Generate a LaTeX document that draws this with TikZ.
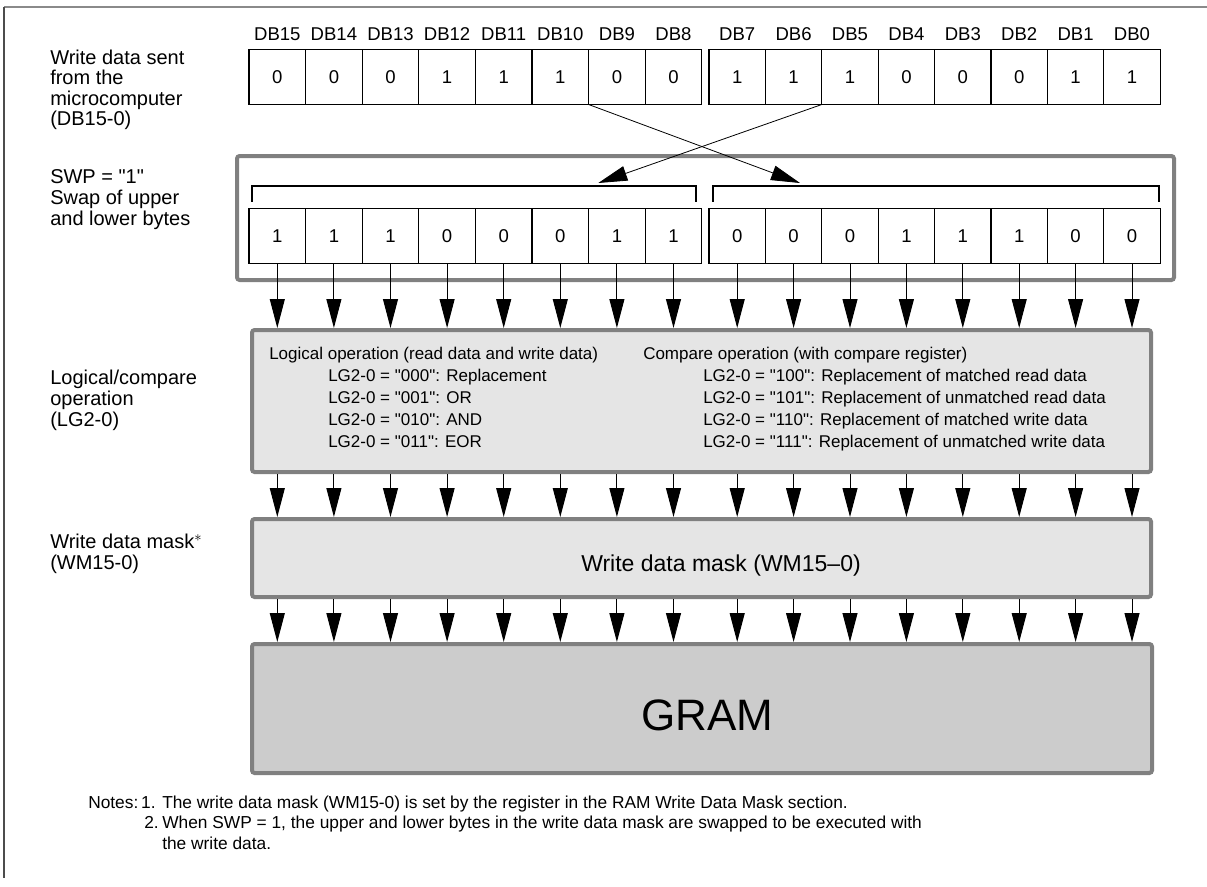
\documentclass[tikz,border=0pt]{standalone}
\usepackage{fontspec}
\setmainfont{Liberation Sans}[Ligatures=TeXOff]
\usetikzlibrary{arrows.meta,calc}
\definecolor{boxgray}{HTML}{808080}
\definecolor{lightfill}{HTML}{E5E5E5}
\definecolor{gramfill}{HTML}{CCCCCC}
\definecolor{framegray}{HTML}{8A8A8A}
\begin{document}
\begin{tikzpicture}[x=0.75pt,y=-0.75pt,
  cell/.style={draw=black,line width=0.9pt,minimum width={#1*0.75pt},minimum height={55*0.75pt},inner sep=0pt,outer sep=0pt,font=\fontsize{13.9pt}{14pt}\selectfont},
  bigbox/.style={draw=boxgray,line width=3pt,rounded corners=2pt,inner sep=0pt,outer sep=1.5pt},
  lab/.style={anchor=base west,inner sep=0pt,font=\fontsize{15pt}{15pt}\selectfont},
  dbl/.style={anchor=base,inner sep=0pt,font=\fontsize{13.9pt}{14pt}\selectfont},
  op/.style={anchor=base west,inner sep=0pt,font=\fontsize{12.75pt}{13pt}\selectfont},
  note/.style={anchor=base west,inner sep=0pt,font=\fontsize{13pt}{14pt}\selectfont},
  arr/.style={-{Triangle[length=21.75pt,width=11.25pt]},line width=0.75pt},
  bracket/.style={line width=0.9pt}
]
\useasboundingbox (0,0) rectangle (1207,886);
% frame
\draw[framegray,line width=1.5pt] (4,7) -- (1207,7);
\draw[black!70,line width=1.1pt] (4,7) -- (4,878);

% big boxes
\node[bigbox,minimum width={937*0.75pt},minimum height={124*0.75pt}] (swapbox) at (705.5,218) {};
\node[bigbox,fill=lightfill,minimum width={899*0.75pt},minimum height={142*0.75pt}] (logic) at (701.5,401) {};
\node[bigbox,fill=lightfill,minimum width={899*0.75pt},minimum height={78*0.75pt}] (mask) at (701.5,558) {};
\node[bigbox,fill=gramfill,minimum width={900*0.75pt},minimum height={129*0.75pt}] (gram) at (702,708.5) {};

% top register
\foreach \v [count=\i from 0] in {0,0,0,1,1,1,0,0} {
  \node[cell=56.6] (t\i) at ({277.3+56.6*\i},77) {\v};
}
\foreach \v [count=\i from 8] in {1,1,1,0,0,0,1,1} {
  \node[cell=56.4] (t\i) at ({737.2+56.4*(\i-8)},77) {\v};
}
\foreach \i in {0,...,15} {
  \pgfmathtruncatemacro\n{15-\i}
  \node[dbl] (l\i) at (t\i |- 0,40) {DB\n};
}
% swapped register
\foreach \v [count=\i from 0] in {1,1,1,0,0,0,1,1} {
  \node[cell=56.6] (s\i) at ({277.3+56.6*\i},235.8) {\v};
}
\foreach \v [count=\i from 8] in {0,0,0,1,1,1,0,0} {
  \node[cell=56.4] (s\i) at ({737.2+56.4*(\i-8)},235.8) {\v};
}
% brackets
\draw[bracket] (252,201.7) |- (696,186) -- (696,201.7);
\draw[bracket] (713,201.7) |- (1159,186) -- (1159,201.7);
\coordinate (bU) at (598.3,183);
\coordinate (bL) at (800,183);
\draw[arr,line width=0.6pt] (t5.south east) -- (bL);
\draw[arr,line width=0.6pt] (t9.south east) -- (bU);

% vertical arrows
\foreach \i in {0,...,15} {
  \draw[arr] (s\i.south) -- (logic.north -| s\i);
  \draw[arr] (logic.south -| s\i) -- (mask.north -| s\i);
  \draw[arr] (mask.south -| s\i) -- (gram.north -| s\i);
}

% left labels
\node[lab] (a1) at (50,64) {Write data sent};
\node[lab] (a2) at (50,84.5) {from the};
\node[lab] (a3) at (50,105) {microcomputer};
\node[lab] (a4) at (50,125.5) {(DB15-0)};
\node[lab] (b1) at (50,183) {SWP = "1"};
\node[lab] (b2) at (50,204) {Swap of upper};
\node[lab] (b3) at (50,225) {and lower bytes};
\node[lab] (c1) at (50,384) {Logical/compare};
\node[lab] (c2) at (50,405) {operation};
\node[lab] (c3) at (50,426) {(LG2-0)};
\node[lab] (d1) at (50,548) {Write data mask\raisebox{0.32em}{\fontsize{11pt}{11pt}\selectfont$\ast$}};
\node[lab] (d2) at (50,569) {(WM15-0)};

% logic box text
\node[op] (o1) at (269,359) {Logical operation (read data and write data)};
\node[op] (o2) at (328,381) {LG2-0 = "000": Replacement};
\node[op] (o3) at (328,403) {LG2-0 = "001": OR};
\node[op] (o4) at (328,425) {LG2-0 = "010": AND};
\node[op] (o5) at (328,447) {LG2-0 = "011": EOR};
\node[op] (p1) at (643,359) {Compare operation (with compare register)};
\node[op] (p2) at (703,381) {LG2-0 = "100": Replacement of matched read data};
\node[op] (p3) at (703,403) {LG2-0 = "101": Replacement of unmatched read data};
\node[op] (p4) at (703,425) {LG2-0 = "110": Replacement of matched write data};
\node[op] (p5) at (703,447) {LG2-0 = "111": Replacement of unmatched write data};

\node[anchor=base,inner sep=0pt,font=\fontsize{17.25pt}{18pt}\selectfont] (masktext) at (721,571) {Write data mask (WM15–0)};
\node[inner sep=0pt,font=\fontsize{33pt}{34pt}\selectfont] (gramtext) at (707.5,715) {GRAM};

% notes
\node[note] (n1) at (88,808) {Notes:\,1.};
\node[note] (n2) at (162,808) {The write data mask (WM15-0) is set by the register in the RAM Write Data Mask section.};
\node[note] (n3) at (144,828.5) {2.};
\node[note] (n4) at (162,828.5) {When SWP = 1, the upper and lower bytes in the write data mask are swapped to be executed with};
\node[note] (n5) at (162,849) {the write data.};
\end{tikzpicture}
\end{document}
